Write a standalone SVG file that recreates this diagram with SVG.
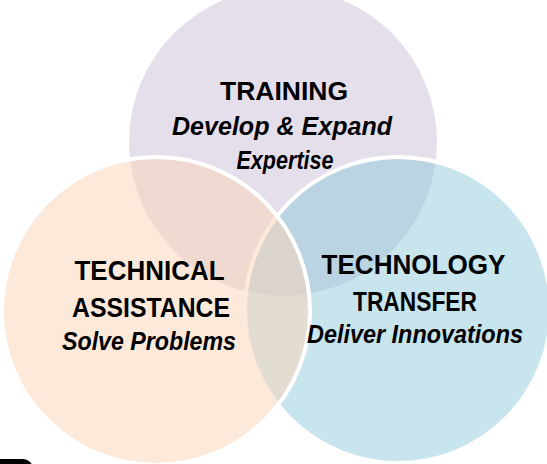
<svg xmlns="http://www.w3.org/2000/svg" width="547" height="464" viewBox="0 0 547 464">
<style>
.c{fill-opacity:0.5}
.s{stroke:#fff;stroke-width:4}
.t{font-family:"Liberation Sans",Arial,sans-serif;font-weight:bold;fill:#000;text-anchor:middle}
.h{font-size:27px}
.i{font-style:italic;font-size:25px}
</style>
<rect width="547" height="464" fill="#fff"/>
<g id="training">
<circle cx="283" cy="142" r="154" fill="#CBBFD9" class="c"/>
</g>
<g id="technology-transfer">
<circle cx="398" cy="310" r="153" fill="#91C9D9" class="c s"/>
</g>
<g id="technical-assistance">
<circle cx="156" cy="311" r="154" fill="#FBD3B5" class="c s"/>
</g>
<rect x="-20" y="459" width="53" height="30" rx="10" fill="#000"/>
<g id="training-label" class="t">
<text x="284" y="100" style="font-size:25px" textLength="128" lengthAdjust="spacingAndGlyphs">TRAINING</text>
<text x="282" y="135" class="i" textLength="220" lengthAdjust="spacingAndGlyphs">Develop &amp; Expand</text>
<text x="285" y="169" class="i" textLength="97" lengthAdjust="spacingAndGlyphs">Expertise</text>
</g>
<g id="technical-assistance-label" class="t">
<text x="149.5" y="280" class="h" textLength="150" lengthAdjust="spacingAndGlyphs">TECHNICAL</text>
<text x="151" y="317" class="h" textLength="158" lengthAdjust="spacingAndGlyphs">ASSISTANCE</text>
<text x="149" y="350" class="i" textLength="174" lengthAdjust="spacingAndGlyphs">Solve Problems</text>
</g>
<g id="technology-transfer-label" class="t">
<text x="413.5" y="274" class="h" textLength="184" lengthAdjust="spacingAndGlyphs">TECHNOLOGY</text>
<text x="415" y="311" class="h" textLength="124" lengthAdjust="spacingAndGlyphs">TRANSFER</text>
<text x="415" y="343" class="i" textLength="216" lengthAdjust="spacingAndGlyphs">Deliver Innovations</text>
</g>
</svg>
